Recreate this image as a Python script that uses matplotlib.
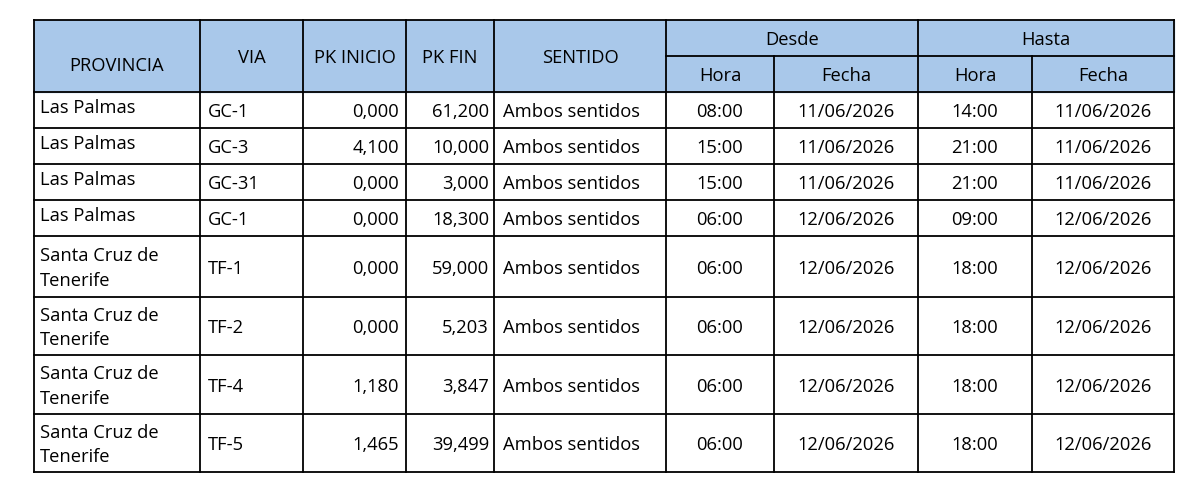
import matplotlib
matplotlib.use("Agg")
import matplotlib.pyplot as plt

provincia = ["Las Palmas", "Las Palmas", "Las Palmas", "Las Palmas",
             "Santa Cruz de\nTenerife", "Santa Cruz de\nTenerife",
             "Santa Cruz de\nTenerife", "Santa Cruz de\nTenerife"]
via = ["GC-1", "GC-3", "GC-31", "GC-1", "TF-1", "TF-2", "TF-4", "TF-5"]
pk_inicio = ["0,000", "4,100", "0,000", "0,000", "0,000", "0,000", "1,180", "1,465"]
pk_fin = ["61,200", "10,000", "3,000", "18,300", "59,000", "5,203", "3,847", "39,499"]
sentido = ["Ambos sentidos"] * 8
desde_hora = ["08:00", "15:00", "15:00", "06:00", "06:00", "06:00", "06:00", "06:00"]
desde_fecha = ["11/06/2026", "11/06/2026", "11/06/2026", "12/06/2026",
               "12/06/2026", "12/06/2026", "12/06/2026", "12/06/2026"]
hasta_hora = ["14:00", "21:00", "21:00", "09:00", "18:00", "18:00", "18:00", "18:00"]
hasta_fecha = ["11/06/2026", "11/06/2026", "11/06/2026", "12/06/2026",
               "12/06/2026", "12/06/2026", "12/06/2026", "12/06/2026"]

plt.rcParams['font.family'] = ['Open Sans', 'DejaVu Sans']
fig = plt.figure(figsize=(12, 4.95), dpi=100)
ax = fig.add_axes([0, 0, 1, 1])
ax.set_xlim(0, 1200); ax.set_ylim(495, 0); ax.axis('off')

xs = [34, 200, 303, 406, 494, 666, 774, 918, 1032, 1174]
ys = [92, 128, 164, 200, 236, 297, 355, 414, 472]
top, mid = 20, 56
hdr = '#a9c8ea'
fs = 13.2
lw = 1.3
dy = 2

ax.add_patch(plt.Rectangle((xs[0], top), xs[-1] - xs[0], ys[0] - top, color=hdr, zorder=0))
ax.plot([xs[0], xs[-1]], [top, top], color='k', lw=lw)
ax.plot([xs[5], xs[-1]], [mid, mid], color='k', lw=lw)
for i, x in enumerate(xs):
    y0 = mid if i in (6, 8) else top
    ax.plot([x, x], [y0, ys[-1]], color='k', lw=lw)
for y in ys:
    ax.plot([xs[0], xs[-1]], [y, y], color='k', lw=lw)

hc = (top + ys[0]) / 2 + dy
for i, t in enumerate(["PROVINCIA", "VIA", "PK INICIO", "PK FIN", "SENTIDO"]):
    ax.text((xs[i] + xs[i + 1]) / 2, hc + (8 if i == 0 else 0), t, ha='center', va='center', fontsize=fs)
ax.text((xs[5] + xs[7]) / 2, (top + mid) / 2 + dy, "Desde", ha='center', va='center', fontsize=fs)
ax.text((xs[7] + xs[9]) / 2, (top + mid) / 2 + dy, "Hasta", ha='center', va='center', fontsize=fs)
for i, t in zip(range(5, 9), ["Hora", "Fecha", "Hora", "Fecha"]):
    ax.text((xs[i] + xs[i + 1]) / 2, (mid + ys[0]) / 2 + dy, t, ha='center', va='center', fontsize=fs)

for r in range(len(via)):
    y0, y1 = ys[r], ys[r + 1]
    yc = (y0 + y1) / 2 + dy
    if "\n" in provincia[r]:
        ax.text(xs[0] + 6, yc, provincia[r], ha='left', va='center', fontsize=fs, linespacing=1.45)
    else:
        ax.text(xs[0] + 6, y0 + 16, provincia[r], ha='left', va='center', fontsize=fs)
    ax.text(xs[1] + 8, yc, via[r], ha='left', va='center', fontsize=fs)
    ax.text(xs[3] - 7, yc, pk_inicio[r], ha='right', va='center', fontsize=fs)
    ax.text(xs[4] - 5, yc, pk_fin[r], ha='right', va='center', fontsize=fs)
    ax.text(xs[4] + 9, yc, sentido[r], ha='left', va='center', fontsize=fs)
    ax.text((xs[5] + xs[6]) / 2, yc, desde_hora[r], ha='center', va='center', fontsize=fs)
    ax.text((xs[6] + xs[7]) / 2, yc, desde_fecha[r], ha='center', va='center', fontsize=fs)
    ax.text((xs[7] + xs[8]) / 2, yc, hasta_hora[r], ha='center', va='center', fontsize=fs)
    ax.text((xs[8] + xs[9]) / 2, yc, hasta_fecha[r], ha='center', va='center', fontsize=fs)

fig.savefig("out.png", dpi=100, facecolor='white')
